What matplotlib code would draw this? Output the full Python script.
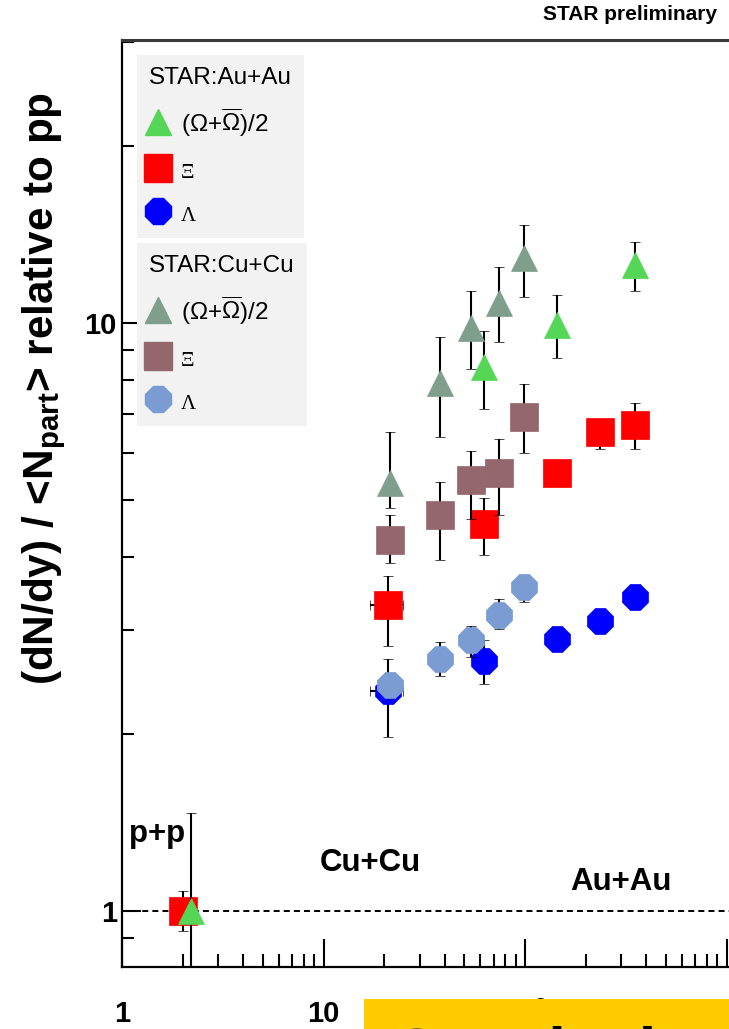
import matplotlib
matplotlib.use("Agg")
import matplotlib.pyplot as plt
from matplotlib.lines import Line2D
from matplotlib.patches import Rectangle
from matplotlib.ticker import FixedLocator, LogLocator, NullFormatter

W, H = 729, 1029

plt.rcParams['font.family'] = ['Liberation Sans', 'DejaVu Sans']
plt.rcParams['mathtext.fontset'] = 'custom'
plt.rcParams['mathtext.rm'] = 'Liberation Sans'
plt.rcParams['mathtext.it'] = 'Liberation Sans:italic'
plt.rcParams['mathtext.bf'] = 'Liberation Sans:bold'

# ---- data ----
# p+p reference
pp_npart_xi = [2.0]
pp_xi = [1.0]
pp_xi_lo = [0.075]
pp_xi_hi = [0.08]
pp_npart_om = [2.2]
pp_om = [1.0]
pp_om_lo = [0.45]
pp_om_hi = [0.47]

# Au+Au
auau_npart_xi = [20.8, 62.5, 144, 236, 352]
auau_xi = [3.31, 4.55, 5.56, 6.53, 6.71]
auau_xi_lo = [0.49, 0.52, 0.15, 0.42, 0.60]
auau_xi_hi = [0.40, 0.49, 0.15, 0.30, 0.60]
auau_xi_xlo = [3.7, 0, 0, 0, 0]
auau_xi_xhi = [3.9, 0, 0, 0, 0]

auau_npart_om = [62.5, 144, 352]
auau_om = [8.42, 9.92, 12.55]
auau_om_lo = [1.28, 1.20, 1.22]
auau_om_hi = [1.27, 1.24, 1.18]

auau_npart_la = [20.8, 62.5, 144, 236, 352]
auau_la = [2.37, 2.66, 2.90, 3.11, 3.42]
auau_la_lo = [0.39, 0.23, 0.08, 0.08, 0.08]
auau_la_hi = [0.31, 0.23, 0.08, 0.08, 0.08]
auau_la_xlo = [3.7, 0, 0, 0, 0]
auau_la_xhi = [3.9, 0, 0, 0, 0]

# Cu+Cu
cucu_npart = [21.5, 37.8, 53.9, 74.2, 98.9]
cucu_om = [5.34, 7.91, 9.80, 10.81, 12.90]
cucu_om_lo = [0.49, 1.51, 1.45, 1.53, 1.83]
cucu_om_hi = [1.19, 1.55, 1.53, 1.64, 1.78]
cucu_xi = [4.27, 4.72, 5.41, 5.56, 6.92]
cucu_xi_lo = [0.36, 0.77, 0.77, 0.84, 0.91]
cucu_xi_hi = [0.45, 0.65, 0.65, 0.79, 0.95]
cucu_la = [2.42, 2.68, 2.89, 3.19, 3.56]
cucu_la_lo = [0.08, 0.17, 0.19, 0.17, 0.21]
cucu_la_hi = [0.08, 0.19, 0.16, 0.20, 0.15]

xticks = [1, 10, 100, 1000]
xticklabels = ['1', '10', r'$\mathbf{10^{2}}$', '']
yticks = [1, 10]
yticklabels = ['1', '10']

c_green = '#56d656'
c_red = '#ff0000'
c_blue = '#0000ff'
c_grey = '#7f9e8c'
c_brown = '#94666e'
c_lblue = '#7b9bd3'

ms_tri, ms_sq, ms_oct = 18.5, 19.5, 20

fig = plt.figure(figsize=(W / 100, H / 100), dpi=100)
left, bottom, top = 122 / W, 1 - 967 / H, 1 - 40 / H
ax = fig.add_axes([left, bottom, 1 - left, top - bottom])
ax.set_xscale('log')
ax.set_yscale('log')
ax.set_xlim(1, 10 ** ((729 - 122) / 201.5))
ax.set_ylim(10 ** (-(967 - 911) / 588), 10 ** ((911 - 40) / 588))

ekw = dict(ecolor='black', elinewidth=1.5, capsize=3.5, capthick=1.5, ls='none')


def draw(x, y, lo, hi, marker, color, ms, xerr=None, z=3):
    ax.errorbar(x, y, yerr=[lo, hi], xerr=xerr, marker=marker, ms=ms,
                mfc=color, mec=color, mew=0.5, zorder=z, **ekw)


ax.axhline(1, color='black', lw=1.4, dashes=(3.1, 2.1), zorder=1)

# Au+Au
draw(auau_npart_om, auau_om, auau_om_lo, auau_om_hi, '^', c_green, ms_tri)
draw(auau_npart_xi, auau_xi, auau_xi_lo, auau_xi_hi, 's', c_red, ms_sq,
     xerr=[auau_xi_xlo, auau_xi_xhi])
draw(auau_npart_la, auau_la, auau_la_lo, auau_la_hi, '8', c_blue, ms_oct,
     xerr=[auau_la_xlo, auau_la_xhi])
# Cu+Cu
draw(cucu_npart, cucu_om, cucu_om_lo, cucu_om_hi, '^', c_grey, ms_tri, z=4)
draw(cucu_npart, cucu_xi, cucu_xi_lo, cucu_xi_hi, 's', c_brown, ms_sq, z=4)
draw(cucu_npart, cucu_la, cucu_la_lo, cucu_la_hi, '8', c_lblue, ms_oct, z=4)
# p+p
draw(pp_npart_xi, pp_xi, pp_xi_lo, pp_xi_hi, 's', c_red, ms_sq, z=5)
draw(pp_npart_om, pp_om, pp_om_lo, pp_om_hi, '^', c_green, ms_tri, z=6)

# axes styling
for s in ['left', 'bottom']:
    ax.spines[s].set_linewidth(1.6)
ax.spines['right'].set_visible(False)
ax.spines['top'].set_linewidth(2.2)
ax.spines['top'].set_color('#3a3a3a')

ax.xaxis.set_major_locator(FixedLocator(xticks))
ax.set_xticklabels(xticklabels)
ax.xaxis.set_minor_locator(LogLocator(base=10, subs=range(2, 10)))
ax.xaxis.set_minor_formatter(NullFormatter())
ax.yaxis.set_major_locator(FixedLocator(yticks))
ax.set_yticklabels(yticklabels)
ax.yaxis.set_minor_locator(LogLocator(base=10, subs=range(2, 10)))
ax.yaxis.set_minor_formatter(NullFormatter())

ax.tick_params(axis='x', which='major', direction='in', length=20, width=1.5,
               pad=24, labelsize=21, top=False)
ax.tick_params(axis='x', which='minor', direction='in', length=9.4, width=1.5, top=False)
ax.tick_params(axis='y', which='major', direction='in', length=14, width=1.5,
               pad=3.6, labelsize=21, right=False)
ax.tick_params(axis='y', which='minor', direction='in', length=8.5, width=1.5, right=False)
for lab in ax.get_xticklabels() + ax.get_yticklabels():
    lab.set_fontweight('bold')

# in-plot labels
ax.text(1.49, 1.35, 'p+p', fontsize=22.5, fontweight='bold', ha='center', va='center')
ax.text(17.0, 1.207, 'Cu+Cu', fontsize=22.5, fontweight='bold', ha='center', va='center')
ax.text(299, 1.12, 'Au+Au', fontsize=22.5, fontweight='bold', ha='center', va='center')

# legends
om_label = r'$(\Omega{+}\overline{\Omega})/2$'
leg_kw = dict(loc='upper left', fontsize=17.5, title_fontsize=17.5, alignment='left',
              frameon=True, fancybox=False, facecolor='#f2f2f2', edgecolor='none',
              framealpha=1, borderaxespad=0, borderpad=0.5, labelspacing=0.75,
              handlelength=0.75, handletextpad=0.55, handleheight=1.11)
h_au = [Line2D([], [], ls='none', marker='^', ms=ms_tri, color=c_green),
        Line2D([], [], ls='none', marker='s', ms=ms_sq, color=c_red),
        Line2D([], [], ls='none', marker='8', ms=ms_oct, color=c_blue)]
h_cu = [Line2D([], [], ls='none', marker='^', ms=ms_tri, color=c_grey),
        Line2D([], [], ls='none', marker='s', ms=ms_sq, color=c_brown),
        Line2D([], [], ls='none', marker='8', ms=ms_oct, color=c_lblue)]
labels = [om_label, 'Ξ', 'Λ']

ax_w = 729 - 122
ax_h = 967 - 40
leg1 = ax.legend(h_au, labels, title='STAR:Au+Au',
                 bbox_to_anchor=((137 - 122) / ax_w, (967 - 55) / ax_h), **leg_kw)
ax.add_artist(leg1)
leg2 = ax.legend(h_cu, labels, title='STAR:Cu+Cu',
                 bbox_to_anchor=((137 - 122) / ax_w, (967 - 243) / ax_h), **leg_kw)
for lg in (leg1, leg2):
    lg.set_zorder(8)
    for t in lg.get_texts()[1:]:
        t.set_fontfamily(['Liberation Serif', 'DejaVu Serif'])
        t.set_fontsize(15)

# y label
fig.text(53 / W, 1 - 388 / H, r'(dN/dy) / <N$_{\mathbf{part}}$> relative to pp',
         rotation=90, rotation_mode='anchor', ha='center', va='baseline',
         fontsize=30.4, fontweight='bold')

fig.text(630 / W, 1 - 15 / H, 'STAR preliminary', fontsize=15, fontweight='bold',
         ha='center', va='center')

# yellow slide banner at the bottom
fig.add_artist(Rectangle((364 / W, 0), 1, (1029 - 999) / H, transform=fig.transFigure,
                         facecolor='#ffcc00', edgecolor='none', zorder=10))
fig.text(392 / W, 1 - 1072 / H, 'Conclusions', fontsize=45, fontweight='bold',
         ha='left', va='baseline', zorder=11)

fig.savefig('out.png', dpi=100)
